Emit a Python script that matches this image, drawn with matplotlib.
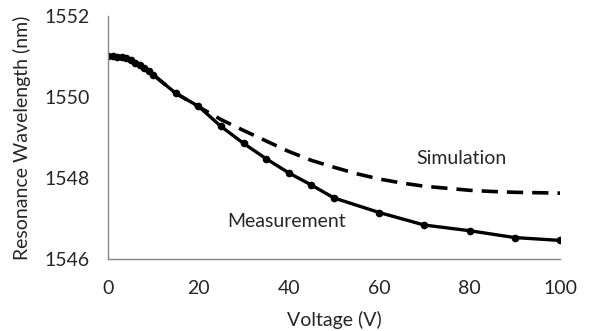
import matplotlib
matplotlib.use("Agg")
import matplotlib.pyplot as plt

plt.rcParams['font.family'] = ['Lato', 'DejaVu Sans']

meas_v = [0, 1, 2, 3, 4, 5, 6, 7, 8, 9, 10, 15, 20, 25, 30, 35, 40, 45, 50, 60, 70, 80, 90, 100]
meas_wl = [1551.02, 1551.02, 1551.01, 1551.0, 1550.97, 1550.92, 1550.86, 1550.79, 1550.72,
           1550.65, 1550.56, 1550.10, 1549.78, 1549.28, 1548.86, 1548.48, 1548.13, 1547.83,
           1547.51, 1547.15, 1546.84, 1546.70, 1546.53, 1546.46]

sim_v = [0, 2, 4, 6, 8, 10, 15, 20, 25, 30, 35, 40, 45, 50, 55, 60, 65, 70, 75, 80, 85, 90, 95, 100]
sim_wl = [1551.02, 1551.01, 1550.97, 1550.86, 1550.72, 1550.56, 1550.10, 1549.77, 1549.45,
          1549.18, 1548.92, 1548.66, 1548.44, 1548.27, 1548.11, 1547.98, 1547.88, 1547.80,
          1547.75, 1547.70, 1547.67, 1547.65, 1547.64, 1547.63]

xticks = [0, 20, 40, 60, 80, 100]
yticks = [1546, 1548, 1550, 1552]

FS = 14
TC = '#262626'

fig = plt.figure(figsize=(5.94, 3.31), dpi=100)
ax = fig.add_axes([108/594, 1-259/331, (560-108)/594, (259-16.5)/331])

ax.plot(sim_v, sim_wl, color='black', lw=2.6, ls=(0, (4.5, 2.5)), solid_capstyle='butt')
ax.plot(meas_v, meas_wl, color='black', lw=2.4, marker='o', ms=4.5)

ax.set_xlim(0, 100)
ax.set_ylim(1546, 1552)
ax.set_xticks(xticks)
ax.set_yticks(yticks)
ax.tick_params(length=0, labelsize=FS, colors=TC)
ax.tick_params(axis='y', pad=13)
ax.tick_params(axis='x', pad=15)
for s in ['top', 'right']:
    ax.spines[s].set_visible(False)
for s in ['left', 'bottom']:
    ax.spines[s].set_color('#888888')
    ax.spines[s].set_linewidth(1.0)

ax.set_xlabel('Voltage (V)', fontsize=FS, color=TC, labelpad=10)
ax.set_ylabel('Resonance Wavelength (nm)', fontsize=FS, color=TC, labelpad=10)

ax.text(78.2, 1548.48, 'Simulation', fontsize=FS, color=TC, ha='center', va='center')
ax.text(39.6, 1546.94, 'Measurement', fontsize=FS, color=TC, ha='center', va='center')

fig.savefig('out.png', dpi=100)
